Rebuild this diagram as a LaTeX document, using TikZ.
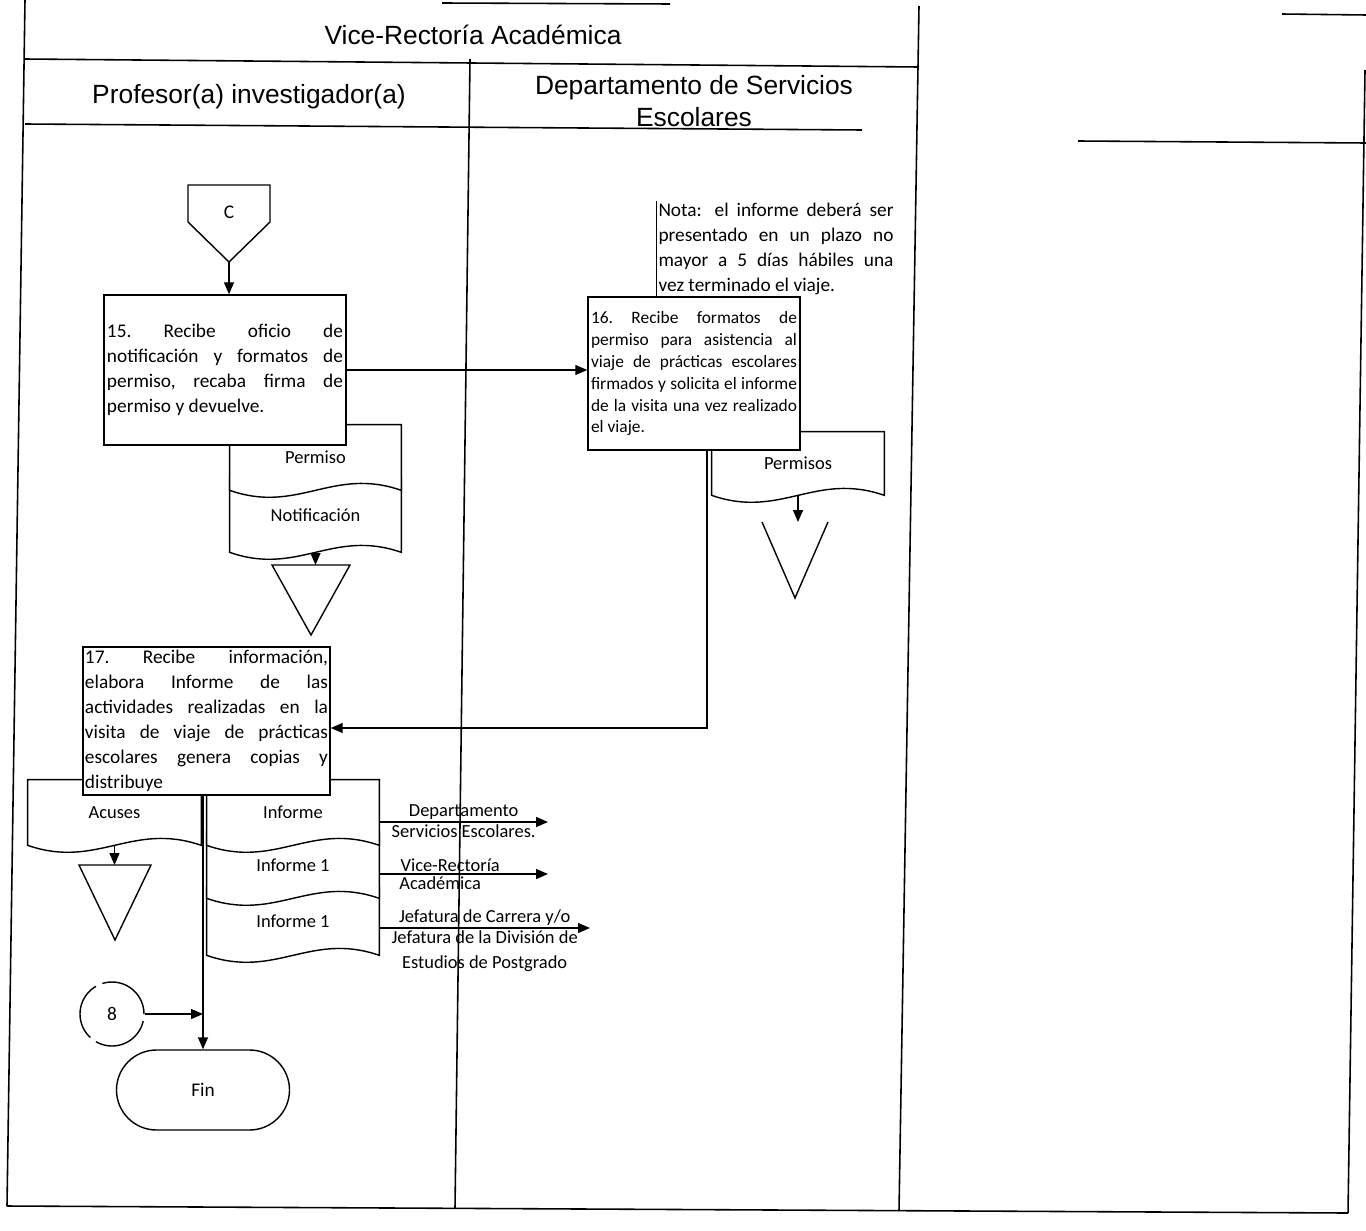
\documentclass[tikz,border=0pt]{standalone}
\usepackage{fontspec}
\setmainfont{Carlito}
\newfontfamily\headfont{Liberation Sans}
\usepackage{tikz}
\usetikzlibrary{positioning, arrows.meta, calc, backgrounds}
\tolerance=10000
\hyphenpenalty=10000

\begin{document}
\begin{tikzpicture}[x=0.2mm, y=-0.2mm,
    frame/.style={line width=0.9pt},
    head/.style={font=\headfont\fontsize{15}{18}\selectfont, align=center, inner sep=0pt},
    task/.style={rectangle, draw, fill=white, line width=0.8pt, align=justify,
                 inner sep=0.6mm, font=\fontsize{11}{14.2}\selectfont},
    docnode/.style={rectangle, inner sep=0pt, font=\fontsize{10.5}{12}\selectfont},
    docline/.style={draw, fill=white, line width=0.8pt},
    archive/.style={line width=0.8pt},
    arr/.style={-{Triangle[length=2.4mm, width=2mm]}, line width=0.8pt},
    lbl/.style={font=\fontsize{10.5}{14.5}\selectfont, inner sep=1pt, align=center},
    conn/.style={circle, draw, line width=0.8pt, minimum size=12.8mm, inner sep=0pt,
                 dash pattern=on 12mm off 1.4mm, font=\fontsize{11}{13}\selectfont},
    term/.style={rectangle, draw, rounded corners=8mm, line width=0.8pt,
                 minimum width=34.6mm, minimum height=16mm, font=\fontsize{11}{13}\selectfont}
]
    \useasboundingbox (0,0) rectangle (1366,1230);

    % Lanes
    \draw[frame] (442,3) -- (670,4);
    \draw[frame] (25,0) -- (7,1206);
    \draw[frame] (25,59) -- (918,67);
    \draw[frame] (25,124) -- (862,130);
    \draw[frame] (470,59) -- (455,1208);
    \draw[frame] (919,6) -- (899,1211);
    \draw[frame] (1282,14) -- (1366,15);
    \draw[frame] (1078,141) -- (1366,143);
    \draw[frame] (1365,70) -- (1348,1213);
    \draw[frame] (7,1206) -- (1348,1213);

    \node[head] (vr) at (473,35) {Vice-Rectoría Académica};
    \node[head] (prof) at (249,97) {Profesor(a) investigador(a)};
    \node[head] (dse) at (694,101) {Departamento de Servicios\\Escolares};

    % Off-page connector
    \node[font=\fontsize{11}{13}\selectfont, inner sep=0pt] (offC) at (229,212) {C};
    \draw[archive] ($(offC)+(-41,-27)$) -- ++(82,0) -- ++(0,37) -- ++(-41,40) -- ++(-41,-40) -- cycle;
    \coordinate (offC-tip) at ($(offC)+(0,50)$);

    % Activities
    \node[task, minimum width=48.4mm, minimum height=30mm, text width=47.2mm] (t15) at (225,370)
        {15.\ Recibe oficio de\linebreak notificación y formatos de\linebreak permiso,\ recaba firma de\linebreak permiso y devuelve.};
    \node[task, minimum width=42.4mm, minimum height=30.6mm, text width=41.2mm,
          font=\fontsize{9.9}{12.5}\selectfont] (t16) at (694,373.5)
        {16.\ Recibe formatos de\linebreak permiso para asistencia al\linebreak viaje de prácticas escolares\linebreak firmados y solicita el informe\linebreak de la visita una vez realizado\linebreak el viaje.};
    \node[task, draw=none, fill=none, inner sep=0.3mm, text width=47mm,
          font=\fontsize{11}{14.2}\selectfont] (nota) at (776,249)
        {Nota: el informe deberá ser\linebreak presentado en un plazo no\linebreak mayor a 5 días hábiles una\linebreak vez terminado el viaje.};
    \draw[frame] (nota.north west) -- (nota.south west);
    \node[task, minimum width=49.4mm, minimum height=29.6mm, text width=48.6mm, inner sep=0.4mm] (t17) at (206.5,721)
        {17.\ Recibe información,\linebreak elabora Informe de las\linebreak actividades realizadas en la\linebreak visita de viaje de prácticas\linebreak escolares genera copias y\linebreak distribuye};

    % Documents
    \node[docnode, minimum width=34.2mm, minimum height=14.8mm] (notif) at (315.5,515) {Notificación};
    \node[docnode, minimum width=34.2mm, minimum height=13mm] (perm) at (315.5,457.5) {Permiso};
    \node[docnode, minimum width=34.4mm, minimum height=12.6mm] (permisos) at (798,463.5) {Permisos};
    \node[docnode, minimum width=34.6mm, minimum height=13mm] (acuses) at (114.5,812.5) {Acuses};
    \node[docnode, minimum width=34.4mm, minimum height=13.6mm] (inf1b) at (293,921) {Informe 1};
    \node[docnode, minimum width=34.4mm, minimum height=13.2mm] (inf1a) at (293,865) {Informe 1};
    \node[docnode, minimum width=34.4mm, minimum height=13mm] (inf) at (293,812.5) {Informe};

    \begin{scope}[on background layer]
        \foreach \d in {notif, perm, permisos, acuses, inf1b, inf1a, inf}
            \draw[docline] (\d.north west) -- (\d.north east) -- (\d.south east)
                .. controls ($(\d.south east)!0.4!(\d.south west)+(0,-24)$)
                        and ($(\d.south east)!0.6!(\d.south west)+(0,24)$) .. (\d.south west) -- cycle;
    \end{scope}

    % Archive
    \coordinate (arch1) at (311,565);
    \draw[archive] (arch1) +(-39,0) -- +(39,0) -- +(0,70) -- cycle;
    \coordinate (arch2) at (115,865);
    \draw[archive] (arch2) +(-36,0) -- +(36,0) -- +(0,75) -- cycle;
    \coordinate (arch3) at (795,522);
    \draw[archive] (arch3) +(-33,0) -- +(0,76) -- +(33,0);

    % End
    \node[conn] (con8) at (112,1014) {8};
    \node[term] (fin) at (203,1090) {Fin};

    % Flow
    \draw[arr] (offC-tip) -- (offC-tip |- t15.north);
    \draw[arr] (t15.east) -- (t15.east -| t16.west);
    \draw[arr] (notif.south) -- (notif.south |- arch1);
    \draw[arr] (permisos.south) -- (permisos.south |- arch3);
    \coordinate (back) at (707,728);
    \draw[arr] (t16.south -| back) -- (back) -- (back -| t17.east);
    \draw[arr] (acuses.south) -- (acuses.south |- arch2);
    \draw[arr] (fin.north |- t17.south) -- (fin.north);
    \coordinate (join8) at (fin.north |- con8);
    \draw[arr] (con8.east) -- (join8);

    % Copies
    \coordinate (toDSE) at (548,822);
    \coordinate (toVR) at (548,874);
    \coordinate (toJef) at (590,928);
    \draw[arr] (inf.east |- toDSE) -- node[lbl, above] (lDSEa) {Departamento}
        node[lbl, below] (lDSEb) {Servicios Escolares.} (toDSE);
    \draw[arr] (inf.east |- toVR) -- node[lbl, above, pos=0.42] (lVRa) {Vice-Rectoría}
        node[lbl, below, pos=0.36] (lVRb) {Académica} (toVR);
    \draw[arr] (inf.east |- toJef) -- node[lbl, above] (lJefa) {Jefatura de Carrera y/o}
        node[lbl, below] (lJefb) {Jefatura de la División de\\Estudios de Postgrado} (toJef);
\end{tikzpicture}
\end{document}
